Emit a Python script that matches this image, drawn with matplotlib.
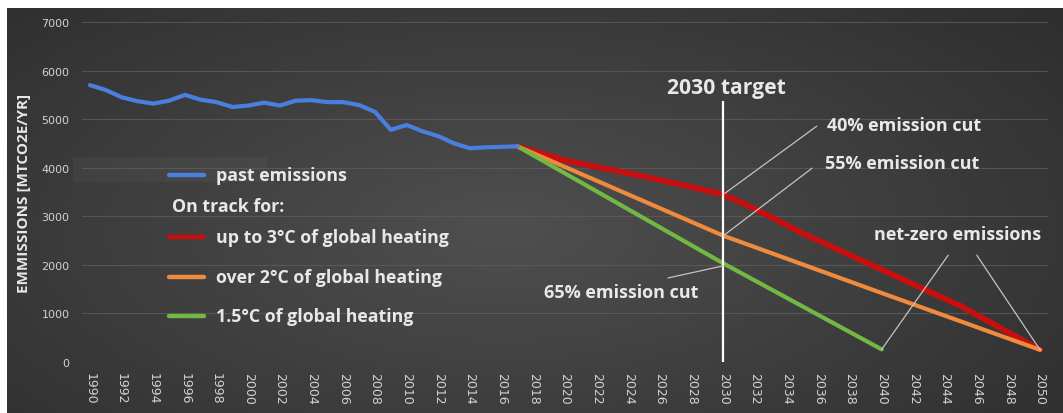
import matplotlib
matplotlib.use("Agg")
import matplotlib.pyplot as plt
import numpy as np
from matplotlib.lines import Line2D
from matplotlib.patches import Rectangle

# historical emissions, MtCO2e/yr
past_years = list(range(1990, 2018))
past_values = [5700, 5600, 5450, 5370, 5320, 5380, 5500, 5400, 5350, 5250,
               5280, 5340, 5280, 5380, 5390, 5350, 5350, 5290, 5150, 4780,
               4880, 4750, 4650, 4500, 4400, 4420, 4430, 4440]

# pathways from 2017
red_years = [2017, 2020, 2025, 2028, 2030, 2032, 2035, 2040, 2045, 2050]
red_values = [4440, 4150, 3820, 3600, 3450, 3150, 2650, 1900, 1150, 250]
orange_years = [2017, 2030, 2040, 2050]
orange_values = [4440, 2600, 1420, 250]
green_years = [2017, 2030, 2040]
green_values = [4440, 2030, 260]

target_year = 2030
target_top = 5370

legend_labels = ["past emissions", "up to 3°C of global heating",
                 "over 2°C of global heating", "1.5°C of global heating"]

BLUE = "#4a7fe0"
RED = "#c80f0f"
ORANGE = "#f08a3c"
GREEN = "#72b843"
TXT = "#e8e8e8"
LEAD = "#c4c4c4"
FONT = "Open Sans"
WT = "bold"

W, H = 1063, 414
fig = plt.figure(figsize=(W / 100, H / 100), dpi=100)
fig.patch.set_facecolor("white")

# dark radial backdrop
bg = fig.add_axes([7 / W, 0, 1 - 7 / W, 1 - 9 / H])
bg.set_axis_off()
gx, gy = np.meshgrid(np.linspace(0, 1, 400), np.linspace(0, 1, 160))
r = np.sqrt(((gx - 0.47) / 0.75) ** 2 + ((gy - 0.55) / 0.9) ** 2)
shade = np.clip(0.31 - 0.14 * r, 0.165, 0.31)
bg.imshow(np.dstack([shade] * 3), aspect="auto", extent=[0, 1, 0, 1],
          interpolation="bilinear")
bg.set_xlim(0, 1)
bg.set_ylim(0, 1)
bg.add_patch(Rectangle((66 / 1056, (414 - 183) / 405), 194 / 1056, 25 / 405,
                       color="white", alpha=0.035, lw=0))

ax = fig.add_axes([82 / W, 1 - 363 / H, 966 / W, 340 / H])
ax.patch.set_alpha(0)
ax.set_xlim(1989.5, 2050.5)
ax.set_ylim(0, 7000)
for s in ax.spines.values():
    s.set_visible(False)
ax.set_yticks(range(0, 7001, 1000))
ax.set_xticks(range(1990, 2051, 2))
ax.set_xticklabels([str(y) for y in range(1990, 2051, 2)], rotation=270)
ax.tick_params(length=0, colors="#d2d2d2", labelsize=8)
ax.tick_params(axis="y", pad=9)
ax.tick_params(axis="x", pad=7, labelsize=9)
ax.grid(axis="y", color="#5c5c5c", lw=0.8, alpha=0.8)
ax.set_axisbelow(True)
ax.set_ylabel("EMMISSIONS [MTCO2E/YR]", color=TXT, fontsize=11,
              fontweight="bold", family=FONT)
ax.yaxis.set_label_coords(-0.053, 0.5)

ax.plot(past_years, past_values, color=BLUE, lw=3, solid_capstyle="round",
        solid_joinstyle="round", zorder=5)
ax.plot(red_years, red_values, color=RED, lw=4.2, solid_capstyle="round",
        solid_joinstyle="round", zorder=4)
ax.plot(orange_years, orange_values, color=ORANGE, lw=3, solid_capstyle="round",
        zorder=4.5)
ax.plot(green_years, green_values, color=GREEN, lw=3, solid_capstyle="round",
        zorder=4.6)

ax.vlines(target_year, 0, target_top, color="white", lw=1.6, zorder=6)
ax.text(target_year + 0.2, 5660, "2030 target", color=TXT, fontsize=15.2,
        fontweight="bold", family=FONT, ha="center", va="center")

def lead(p0, p1):
    ax.annotate("", xy=p0, xytext=p1,
                arrowprops=dict(arrowstyle="-", color=LEAD, lw=0.9,
                                shrinkA=0, shrinkB=0), zorder=7)

lead((target_year, red_values[red_years.index(2030)]), (2035.9, 4856))
lead((target_year, orange_values[orange_years.index(2030)]), (2035.6, 3990))
lead((target_year, green_values[green_years.index(2030)] - 50), (2026.5, 1730))
lead((green_years[-1], green_values[-1]), (2044.2, 2200))
lead((red_years[-1], red_values[-1]), (2046.0, 2200))

kw = dict(color=TXT, fontsize=13, fontweight=WT, family=FONT, va="center")
ax.text(2036.55, 4877, "40% emission cut", **kw)
ax.text(2036.4, 4095, "55% emission cut", **kw)
ax.text(2028.4, 1440, "65% emission cut", ha="right", **kw)
ax.text(2039.5, 2634, "net-zero emissions", **kw)

# legend drawn in figure pixels
def fy(py):
    return 1 - py / H

rows = [(176, BLUE, legend_labels[0]), (238, RED, legend_labels[1]),
        (278, ORANGE, legend_labels[2]), (317, GREEN, legend_labels[3])]
for py, c, lab in rows:
    fig.add_artist(Line2D([169 / W, 204 / W], [fy(py), fy(py)], color=c,
                          lw=3.2, solid_capstyle="round"))
    fig.text(216 / W, fy(py), lab, color=TXT, fontsize=12.8, family=FONT,
             fontweight=WT, va="center")
fig.text(172 / W, fy(207), "On track for:", color=TXT, fontsize=12.8,
         family=FONT, fontweight=WT, va="center")

fig.savefig("out.png", dpi=100)
